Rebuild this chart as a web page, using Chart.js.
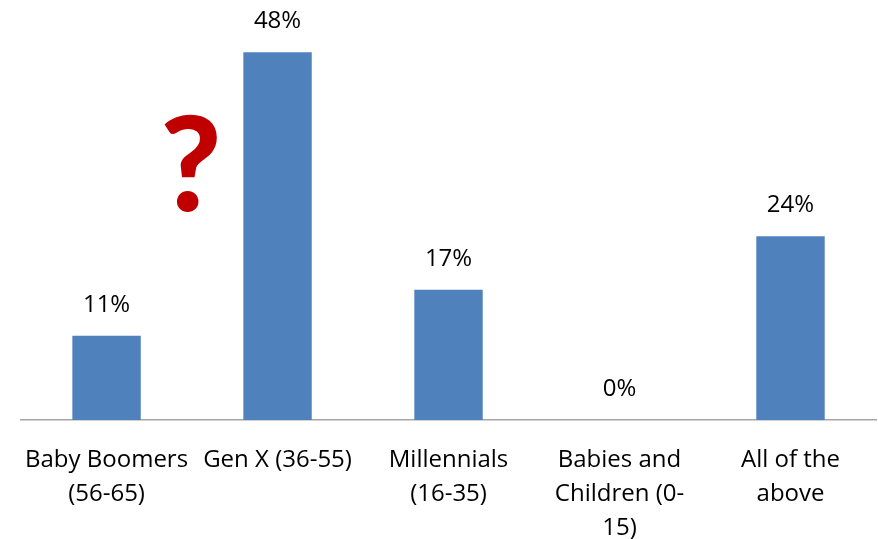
<!DOCTYPE html>
<html>
<head>
<meta charset="utf-8">
<script src="https://cdn.jsdelivr.net/npm/chart.js@4.4.1/dist/chart.umd.min.js"></script>
<style>
  html, body { margin: 0; padding: 0; background: #fff; }
  #wrap { width: 878px; height: 539px; }
</style>
</head>
<body>
<div id="wrap"><canvas id="myChart" width="878" height="539"></canvas></div>
<script>
const categories = [
  ['Baby Boomers', '(56-65)'],
  ['Gen X (36-55)'],
  ['Millennials', '(16-35)'],
  ['Babies and', 'Children (0-', '15)'],
  ['All of the', 'above']
];
const shares = [11, 48, 17, 0, 24];

const FONT = '"Open Sans", Calibri, Lato, sans-serif';

// value text above each bar
const valueLabels = {
  id: 'valueLabels',
  afterDatasetsDraw(chart) {
    const ctx = chart.ctx;
    const meta = chart.getDatasetMeta(0);
    ctx.save();
    ctx.font = '24px ' + FONT;
    ctx.fillStyle = '#000';
    ctx.textAlign = 'center';
    ctx.textBaseline = 'middle';
    meta.data.forEach((bar, i) => {
      ctx.fillText(shares[i] + '%', bar.x, bar.y - 31);
    });
    ctx.restore();
  }
};

// big red question mark next to the Gen X bar
const questionMark = {
  id: 'questionMark',
  afterDraw(chart) {
    const ctx = chart.ctx;
    const a = chart.chartArea;
    ctx.save();
    ctx.font = '900 132px Lato, sans-serif';
    ctx.fillStyle = '#c00000';
    ctx.textAlign = 'center';
    ctx.textBaseline = 'alphabetic';
    ctx.fillText('?', a.left + 170, 211);
    ctx.restore();
  }
};

const config = {
  type: 'bar',
  data: {
    labels: categories,
    datasets: [{
      data: shares,
      backgroundColor: '#4f81bd',
      borderWidth: 0,
      barPercentage: 0.4,
      categoryPercentage: 1
    }]
  },
  options: {
    responsive: false,
    animation: false,
    layout: { padding: { left: 20, right: 2, top: 37, bottom: 0 } },
    plugins: { legend: { display: false }, tooltip: { enabled: false } },
    scales: {
      x: {
        grid: { display: false, drawTicks: false },
        border: { color: '#a6a6a6', width: 1.5 },
        ticks: {
          color: '#000',
          font: { family: FONT, size: 24, lineHeight: 1.42 },
          padding: 23,
          maxRotation: 0,
          autoSkip: false
        },
        afterFit(scale) { scale.height = 119; }
      },
      y: {
        display: false,
        min: 0,
        max: 50
      }
    }
  },
  plugins: [valueLabels, questionMark]
};

const ctx = document.getElementById('myChart').getContext('2d');
new Chart(ctx, config);
</script>
</body>
</html>
